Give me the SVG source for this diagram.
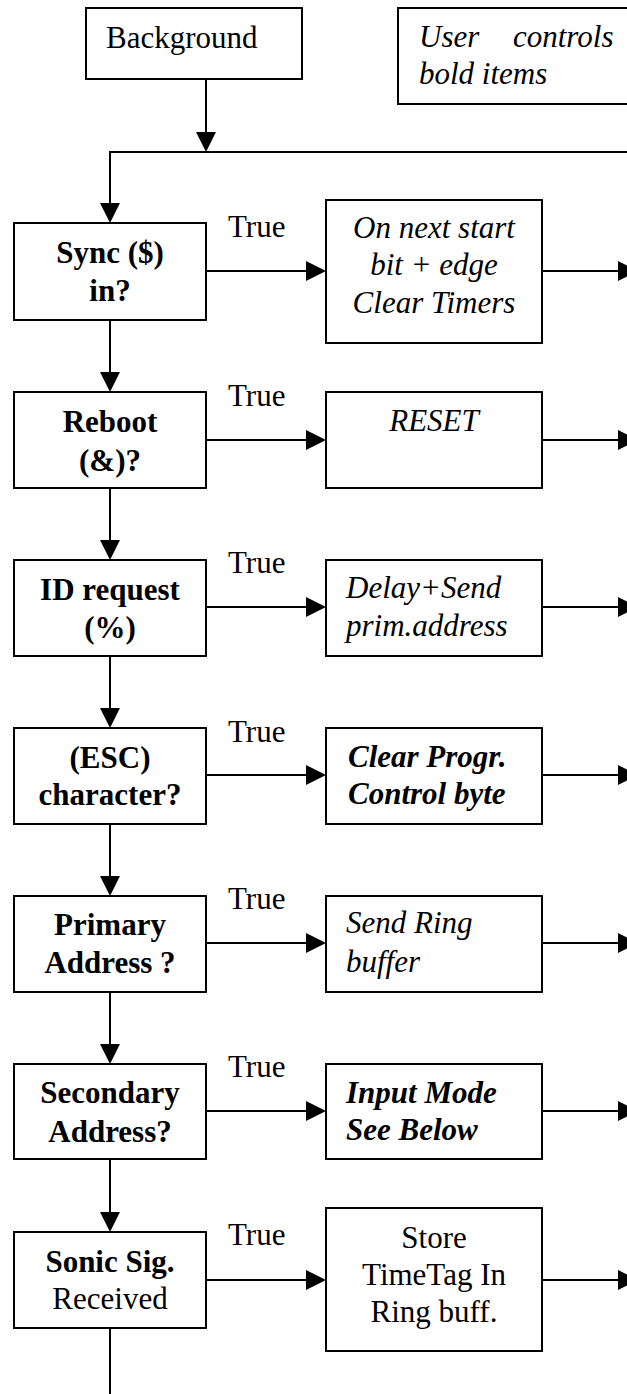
<svg xmlns="http://www.w3.org/2000/svg" width="627" height="1394" viewBox="0 0 627 1394">
<style>
.box{fill:#fff;stroke:#000;stroke-width:2}
.ln{fill:none;stroke:#000;stroke-width:2}
.t{font-family:"Liberation Serif","Times New Roman",serif;font-size:31px;fill:#000}
.b{font-weight:bold}
.i{font-style:italic}
.c{text-anchor:middle}
</style>
<defs>
<marker id="ah" markerUnits="userSpaceOnUse" markerWidth="20" markerHeight="20" viewBox="0 -10 20 20" refX="0" refY="0" orient="auto" overflow="visible">
<path d="M0,-10 L20,0 L0,10 Z" fill="#000"/>
</marker>
</defs>
<rect width="627" height="1394" fill="#fff"/>
<g id="connectors">
<line class="ln" x1="206" y1="79" x2="206" y2="132" marker-end="url(#ah)"/>
<polyline class="ln" points="640,152 110,152 110,203" marker-end="url(#ah)"/>
<line class="ln" x1="110" y1="320" x2="110" y2="372" marker-end="url(#ah)"/>
<line class="ln" x1="110" y1="488" x2="110" y2="540" marker-end="url(#ah)"/>
<line class="ln" x1="110" y1="656" x2="110" y2="708" marker-end="url(#ah)"/>
<line class="ln" x1="110" y1="824" x2="110" y2="876" marker-end="url(#ah)"/>
<line class="ln" x1="110" y1="992" x2="110" y2="1044" marker-end="url(#ah)"/>
<line class="ln" x1="110" y1="1159" x2="110" y2="1212" marker-end="url(#ah)"/>
<line class="ln" x1="110" y1="1328" x2="110" y2="1394"/>
<line class="ln" x1="206" y1="271" x2="306" y2="271" marker-end="url(#ah)"/>
<line class="ln" x1="206" y1="440" x2="306" y2="440" marker-end="url(#ah)"/>
<line class="ln" x1="206" y1="607" x2="306" y2="607" marker-end="url(#ah)"/>
<line class="ln" x1="206" y1="775" x2="306" y2="775" marker-end="url(#ah)"/>
<line class="ln" x1="206" y1="943" x2="306" y2="943" marker-end="url(#ah)"/>
<line class="ln" x1="206" y1="1111" x2="306" y2="1111" marker-end="url(#ah)"/>
<line class="ln" x1="206" y1="1280" x2="306" y2="1280" marker-end="url(#ah)"/>
<line class="ln" x1="542" y1="271" x2="618" y2="271" marker-end="url(#ah)"/>
<line class="ln" x1="542" y1="440" x2="618" y2="440" marker-end="url(#ah)"/>
<line class="ln" x1="542" y1="607" x2="618" y2="607" marker-end="url(#ah)"/>
<line class="ln" x1="542" y1="775" x2="618" y2="775" marker-end="url(#ah)"/>
<line class="ln" x1="542" y1="943" x2="618" y2="943" marker-end="url(#ah)"/>
<line class="ln" x1="542" y1="1111" x2="618" y2="1111" marker-end="url(#ah)"/>
<line class="ln" x1="542" y1="1280" x2="618" y2="1280" marker-end="url(#ah)"/>
<text class="t" x="228" y="237">True</text>
<text class="t" x="228" y="406">True</text>
<text class="t" x="228" y="573">True</text>
<text class="t" x="228" y="742">True</text>
<text class="t" x="228" y="909">True</text>
<text class="t" x="228" y="1077">True</text>
<text class="t" x="228" y="1245">True</text>
</g>
<g id="background">
<rect class="box" x="86" y="8" width="216" height="71"/>
<text class="t" x="106" y="48">Background</text>
</g>
<g id="note">
<rect class="box" x="398" y="8" width="260" height="96"/>
<text class="t i" y="47"><tspan x="419">User</tspan><tspan x="513">controls</tspan></text>
<text class="t i" x="419" y="84">bold items</text>
</g>
<g id="sync">
<rect class="box" x="14" y="223" width="192" height="97"/>
<text class="t b c" x="110" y="263">Sync ($)</text>
<text class="t b c" x="110" y="301">in?</text>
</g>
<g id="sync-action">
<rect class="box" x="326" y="200" width="216" height="143"/>
<text class="t i c" x="434" y="238">On next start</text>
<text class="t i c" x="434" y="275">bit + edge</text>
<text class="t i c" x="434" y="313">Clear Timers</text>
</g>
<g id="reboot">
<rect class="box" x="14" y="392" width="192" height="96"/>
<text class="t b c" x="110" y="432">Reboot</text>
<text class="t b c" x="110" y="471">(&amp;)?</text>
</g>
<g id="reset">
<rect class="box" x="326" y="392" width="216" height="96"/>
<text class="t i c" x="434" y="431">RESET</text>
</g>
<g id="id-request">
<rect class="box" x="14" y="560" width="192" height="96"/>
<text class="t b c" x="110" y="600">ID request</text>
<text class="t b c" x="110" y="638">(%)</text>
</g>
<g id="id-action">
<rect class="box" x="326" y="560" width="216" height="96"/>
<text class="t i" x="346" y="598">Delay+Send</text>
<text class="t i" x="346" y="636">prim.address</text>
</g>
<g id="esc">
<rect class="box" x="14" y="728" width="192" height="96"/>
<text class="t b c" x="110" y="768">(ESC)</text>
<text class="t b c" x="110" y="805">character?</text>
</g>
<g id="esc-action">
<rect class="box" x="326" y="728" width="216" height="96"/>
<text class="t b i" x="348" y="767">Clear Progr.</text>
<text class="t b i" x="348" y="804">Control byte</text>
</g>
<g id="primary">
<rect class="box" x="14" y="896" width="192" height="96"/>
<text class="t b c" x="110" y="935">Primary</text>
<text class="t b c" x="110" y="973">Address ?</text>
</g>
<g id="primary-action">
<rect class="box" x="326" y="896" width="216" height="96"/>
<text class="t i" x="346" y="933">Send Ring</text>
<text class="t i" x="346" y="972">buffer</text>
</g>
<g id="secondary">
<rect class="box" x="14" y="1064" width="192" height="95"/>
<text class="t b c" x="110" y="1103">Secondary</text>
<text class="t b c" x="110" y="1142">Address?</text>
</g>
<g id="secondary-action">
<rect class="box" x="326" y="1064" width="216" height="95"/>
<text class="t b i" x="346" y="1103">Input Mode</text>
<text class="t b i" x="346" y="1140">See Below</text>
</g>
<g id="sonic">
<rect class="box" x="14" y="1232" width="192" height="96"/>
<text class="t b c" x="110" y="1272">Sonic Sig.</text>
<text class="t c" x="110" y="1309">Received</text>
</g>
<g id="store">
<rect class="box" x="326" y="1208" width="216" height="143"/>
<text class="t c" x="434" y="1248">Store</text>
<text class="t c" x="434" y="1285">TimeTag In</text>
<text class="t c" x="434" y="1322">Ring buff.</text>
</g>
</svg>
